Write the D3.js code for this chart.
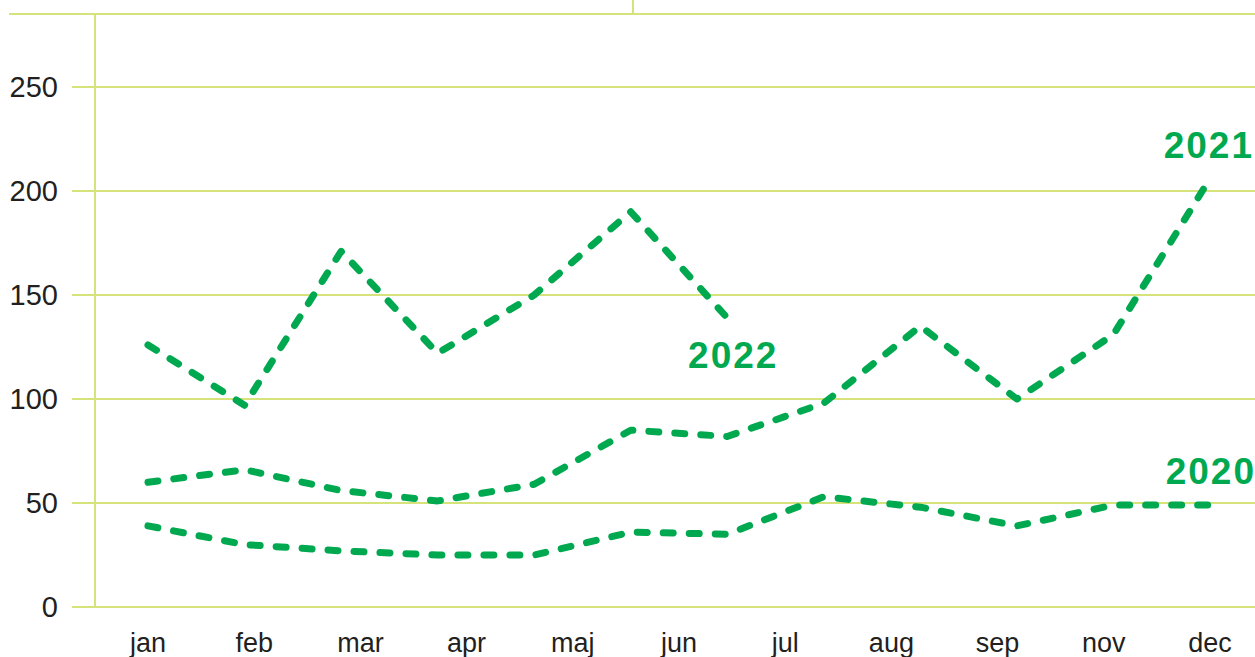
<!DOCTYPE html>
<html lang="da">
<head>
<meta charset="UTF-8">
<title>Måneder 2020-2022</title>
<style>
    body { margin: 0; background: #fff; overflow: hidden; }
    svg { display: block; }
    .tick-label { font-family: "Liberation Sans", Arial, sans-serif; font-size: 27px; fill: #231f20; }
    .y-label { font-size: 29px; }
    .year-label { font-family: "Liberation Sans", Arial, sans-serif; font-size: 37px; font-weight: bold; fill: #00a94f; letter-spacing: 2px; }
</style>
</head>
<body>
<svg width="1255" height="657"></svg>
<script src="https://d3js.org/d3.v7.min.js"></script>
<script>
    // data points (12 months) and the axis labels (oct is missing in the original)
    const months = ["jan", "feb", "mar", "apr", "maj", "jun", "jul", "aug", "sep", "okt", "nov", "dec"];
    const monthLabels = ["jan", "feb", "mar", "apr", "maj", "jun", "jul", "aug", "sep", "nov", "dec"];
    const yTicks = [0, 50, 100, 150, 200, 250];

    const values2020 = [39, 30, 27, 25, 25, 36, 35, 53, 48, 39, 49, 49];
    const values2021 = [60, 66, 56, 51, 59, 85, 82, 98, 135, 100, 131, 206];
    const values2022 = [126, 97, 171, 122, 150, 190, 139];

    const gridColor = "#d6e27a";
    const green = "#00a94f";

    const svg = d3.select("svg");

    const x = d3.scalePoint().domain(months).range([148, 1210]);
    const xLabels = d3.scalePoint().domain(monthLabels).range([148, 1210]);
    const y = d3.scaleLinear().domain([0, 250]).range([607, 87]);

    // frame: top line, small top tick, left axis
    svg.append("line")
        .attr("x1", 9).attr("x2", 1255).attr("y1", 14).attr("y2", 14)
        .attr("stroke", gridColor).attr("stroke-width", 2);
    svg.append("line")
        .attr("x1", 633).attr("x2", 633).attr("y1", 0).attr("y2", 14)
        .attr("stroke", gridColor).attr("stroke-width", 2);

    // gridlines
    svg.append("g")
        .selectAll("line")
        .data(yTicks)
        .join("line")
        .attr("x1", 72).attr("x2", 1255)
        .attr("y1", d => y(d)).attr("y2", d => y(d))
        .attr("stroke", gridColor)
        .attr("stroke-width", 2);

    svg.append("line")
        .attr("x1", 95).attr("x2", 95).attr("y1", 14).attr("y2", y(0))
        .attr("stroke", gridColor).attr("stroke-width", 2);

    // y tick labels
    svg.append("g")
        .selectAll("text")
        .data(yTicks)
        .join("text")
        .attr("class", "tick-label y-label")
        .attr("x", 58)
        .attr("y", d => y(d))
        .attr("dy", "0.36em")
        .attr("text-anchor", "end")
        .text(d => d);

    // month labels
    svg.append("g")
        .selectAll("text")
        .data(monthLabels)
        .join("text")
        .attr("class", "tick-label")
        .attr("x", d => xLabels(d))
        .attr("y", 652)
        .attr("text-anchor", "middle")
        .text(d => d);

    const line = d3.line()
        .x((d, i) => x(months[i]))
        .y(d => y(d));

    const series = [values2020, values2021, values2022];

    svg.append("g")
        .selectAll("path")
        .data(series)
        .join("path")
        .attr("d", line)
        .attr("fill", "none")
        .attr("stroke", green)
        .attr("stroke-width", 7)
        .attr("stroke-linecap", "round")
        .attr("stroke-linejoin", "round")
        .attr("stroke-dasharray", "10 16");

    // year labels
    svg.append("text")
        .attr("class", "year-label")
        .attr("x", x("dec") + 44)
        .attr("y", y(values2021[11]) - 21)
        .attr("text-anchor", "end")
        .text("2021");

    svg.append("text")
        .attr("class", "year-label")
        .attr("x", x("dec") + 46)
        .attr("y", y(values2020[11]) - 21)
        .attr("text-anchor", "end")
        .text("2020");

    svg.append("text")
        .attr("class", "year-label")
        .attr("x", x("jul") + 6)
        .attr("y", y(values2022[6]) + 50)
        .attr("text-anchor", "middle")
        .text("2022");
</script>
</body>
</html>
